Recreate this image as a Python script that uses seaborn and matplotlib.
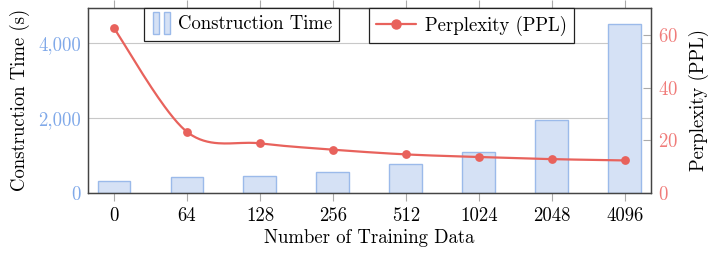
import numpy as np
import pandas as pd
import matplotlib
matplotlib.use("Agg")
import matplotlib.pyplot as plt
import seaborn as sns
from matplotlib.legend_handler import HandlerBase
from matplotlib.patches import Rectangle
from matplotlib.lines import Line2D

# ---- data ----
categories = ["0", "64", "128", "256", "512", "1024", "2048", "4096"]
construction_time = [305, 420, 455, 555, 770, 1090, 1935, 4505]
perplexity = [62.7, 23.2, 18.8, 16.4, 14.6, 13.6, 12.8, 12.3]

left_ticks = [0, 2000, 4000]
right_ticks = [0, 20, 40, 60]

# ---- style ----
sns.set_style("white")
plt.rcParams["font.family"] = ["cmr10"]
plt.rcParams["axes.formatter.use_mathtext"] = True
plt.rcParams["mathtext.fontset"] = "cm"
plt.rcParams["text.color"] = "black"
plt.rcParams["axes.labelcolor"] = "black"
plt.rcParams["xtick.color"] = "black"
plt.rcParams["ytick.color"] = "black"

BAR_FACE = "#d5e1f5"
BAR_EDGE = "#9bbaea"
LEFT_TXT = "#80a9e9"
LINE_C = "#e8625c"
RIGHT_TXT = "#f07c7a"
GRID_C = "#c8c8c8"
FS = 13.5

fig = plt.figure(figsize=(7.15, 2.56), dpi=100)
ax = fig.add_axes([88 / 715, 1 - 192.7 / 256, (650.7 - 88) / 715, (192.7 - 8) / 256])

df = pd.DataFrame({"n": categories, "time": construction_time})
sns.barplot(data=df, x="n", y="time", order=categories, ax=ax, color=BAR_FACE,
            saturation=1, edgecolor=BAR_EDGE, linewidth=1.0, width=0.45,
            errorbar=None, zorder=2)
for p in ax.patches:
    p.set_facecolor(BAR_FACE)
    p.set_edgecolor(BAR_EDGE)

ax.set_xlim(-0.356, 7.356)
ax.set_ylim(0, 4945)
ax.set_yticks(left_ticks)
ax.set_yticklabels([f"{v:,}" for v in left_ticks])
ax.yaxis.grid(True, color=GRID_C, linewidth=0.8, zorder=0)
ax.set_axisbelow(True)
ax.tick_params(axis="y", length=0, pad=5, labelsize=FS, labelcolor=LEFT_TXT)
ax.tick_params(axis="x", direction="out", length=5.5, width=0.8, color="#aaaaaa",
               pad=5, labelsize=FS, labelcolor="black", top=True, bottom=True)
ax.set_xlabel("Number of Training Data", fontsize=FS, labelpad=3, color="black")
ax.set_ylabel("Construction Time (s)", fontsize=FS, labelpad=6, color="black")
for s in ax.spines.values():
    s.set_color("#444444")
    s.set_linewidth(0.9)

# ---- perplexity (right axis) ----
ax2 = ax.twinx()
ax2.set_ylim(0, 70.4)
ax2.set_yticks(right_ticks)
ax2.tick_params(axis="y", direction="in", length=6, width=0.8, color="#aaaaaa",
                pad=5, labelsize=FS, labelcolor=RIGHT_TXT)
ax2.set_ylabel("Perplexity (PPL)", fontsize=FS, labelpad=8, color="black")
for s in ax2.spines.values():
    s.set_color("#444444")
    s.set_linewidth(0.9)

# smooth curve (TikZ-style bezier smoothing in screen-scaled coordinates)
xs = np.arange(len(perplexity), dtype=float)
ys = np.array(perplexity, dtype=float)
sx, sy = 73.0, 52.5 / 20.0
P = np.column_stack([xs * sx, ys * sy])
Pext = np.vstack([P[0], P, P[-1]])
k = 0.16
curve = []
tt = np.linspace(0, 1, 40)
for i in range(len(P) - 1):
    p0 = Pext[i + 1]
    p3 = Pext[i + 2]
    c1 = p0 + k * (Pext[i + 2] - Pext[i])
    c2 = p3 - k * (Pext[i + 3] - Pext[i + 1])
    b = ((1 - tt) ** 3)[:, None] * p0 + (3 * (1 - tt) ** 2 * tt)[:, None] * c1 + \
        (3 * (1 - tt) * tt ** 2)[:, None] * c2 + (tt ** 3)[:, None] * p3
    curve.append(b)
curve = np.vstack(curve)
cdf = pd.DataFrame({"x": curve[:, 0] / sx, "y": curve[:, 1] / sy})
sns.lineplot(data=cdf, x="x", y="y", ax=ax2, color=LINE_C, linewidth=1.6,
             sort=False, estimator=None, zorder=3)
pdf = pd.DataFrame({"x": xs, "y": ys})
sns.scatterplot(data=pdf, x="x", y="y", ax=ax2, color=LINE_C, s=40,
                edgecolor=LINE_C, linewidth=0, zorder=4)
ax2.set_xlabel("")
ax2.set_xlim(-0.356, 7.356)


# ---- legends ----
class TwoBarHandler(HandlerBase):
    def create_artists(self, legend, orig_handle, xdescent, ydescent, width,
                       height, fontsize, trans):
        h = height * 1.7
        y0 = -ydescent + (height - h) / 2
        w = 4.2
        r1 = Rectangle((-xdescent + 1, y0), w, h, facecolor=BAR_FACE,
                       edgecolor=BAR_EDGE, linewidth=1.0, transform=trans)
        r2 = Rectangle((-xdescent + 1 + w + 4.0, y0), w, h, facecolor=BAR_FACE,
                       edgecolor=BAR_EDGE, linewidth=1.0, transform=trans)
        return [r1, r2]


bar_handle = Rectangle((0, 0), 1, 1, facecolor=BAR_FACE, edgecolor=BAR_EDGE)
leg1 = ax2.legend([bar_handle], ["Construction Time"],
                  handler_map={Rectangle: TwoBarHandler()},
                  loc="upper left", bbox_to_anchor=((144 - 88) / 562.7, 1.0),
                  fontsize=FS, frameon=True, fancybox=False, framealpha=1,
                  edgecolor="#222222", handlelength=1.1, handletextpad=0.3,
                  borderpad=0.4, borderaxespad=0)
leg1.get_frame().set_linewidth(0.9)
for t in leg1.get_texts():
    t.set_color("black")
ax2.add_artist(leg1)

line_handle = Line2D([0], [0], color=LINE_C, linewidth=1.6, marker="o",
                     markersize=6.5)
leg2 = ax2.legend([line_handle], ["Perplexity (PPL)"],
                  loc="upper left", bbox_to_anchor=((368.7 - 88) / 562.7, 1.0),
                  fontsize=FS, frameon=True, fancybox=False, framealpha=1,
                  edgecolor="#222222", handlelength=2.1, handletextpad=0.5,
                  borderpad=0.4, borderaxespad=0)
leg2.get_frame().set_linewidth(0.9)
for t in leg2.get_texts():
    t.set_color("black")

fig.savefig("out.png", dpi=100)
